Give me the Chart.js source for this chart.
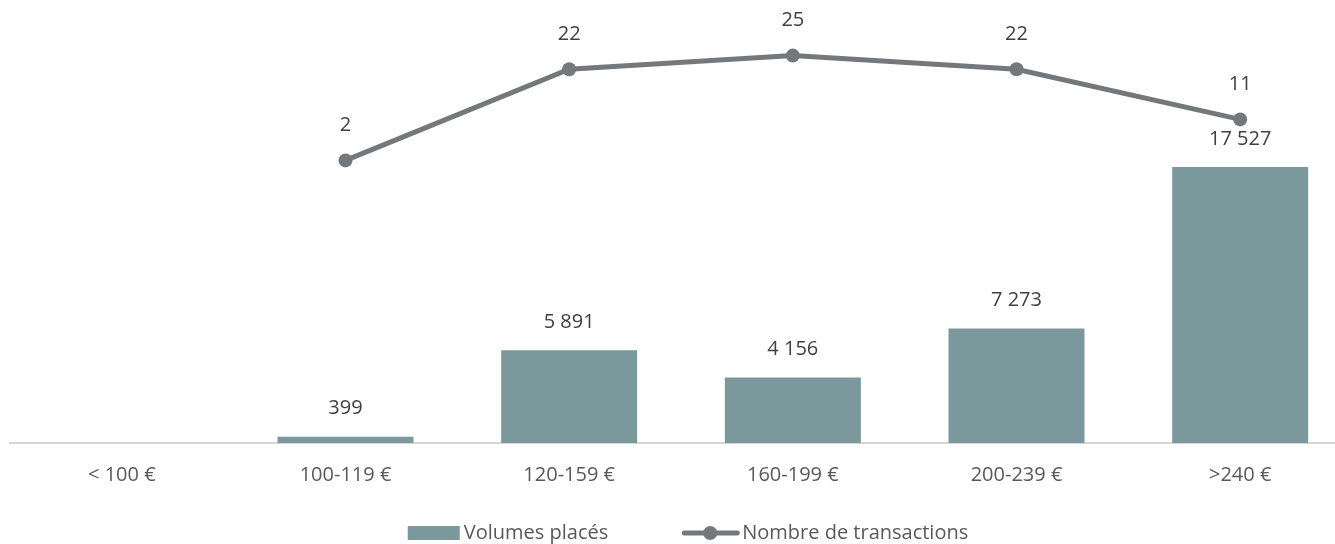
<!DOCTYPE html>
<html lang="fr">
<head>
    <meta charset="UTF-8">
    <title>Volumes placés et nombre de transactions</title>
    <script src="https://cdn.jsdelivr.net/npm/chart.js"></script>
    <style>
        body {
            margin: 0;
            background: #ffffff;
            overflow: hidden;
        }

        .chart-box {
            width: 1359px;
            height: 544px;
            position: relative;
        }
    </style>
</head>
<body>
    <div class="chart-box">
        <canvas id="combo"></canvas>
    </div>

    <script>
        // données
        const categories = ['< 100 €', '100-119 €', '120-159 €', '160-199 €', '200-239 €', '>240 €'];
        const volumes = [null, 399, 5891, 4156, 7273, 17527];
        const transactions = [null, 2, 22, 25, 22, 11];

        const FONT = '"Open Sans", "DejaVu Sans", sans-serif';
        const BAR_COLOR = '#7b999d';
        const LINE_COLOR = '#75787b';

        function fmt(v) {
            return String(v).replace(/\B(?=(\d{3})+(?!\d))/g, ' ');
        }

        // étiquettes de valeurs au-dessus des barres et des points
        const valueLabels = {
            id: 'valueLabels',
            afterDatasetsDraw(chart) {
                const ctx = chart.ctx;
                ctx.save();
                ctx.font = '20px ' + FONT;
                ctx.fillStyle = '#404040';
                ctx.textAlign = 'center';
                ctx.textBaseline = 'middle';
                chart.data.datasets.forEach((ds, i) => {
                    const meta = chart.getDatasetMeta(i);
                    const gap = ds.type === 'line' ? 35 : 28;
                    meta.data.forEach((el, j) => {
                        const v = ds.data[j];
                        if (v === null || v === undefined) return;
                        ctx.fillText(fmt(v), el.x, el.y - gap);
                    });
                });
                ctx.restore();
            }
        };

        // légende dessinée à la main (trait + point pour la courbe)
        const bottomLegend = {
            id: 'bottomLegend',
            afterDraw(chart) {
                const ctx = chart.ctx;
                ctx.save();
                ctx.font = '20px ' + FONT;
                ctx.textBaseline = 'middle';
                const y = 533;
                const t1 = 'Volumes placés';
                const t2 = 'Nombre de transactions';
                const w1 = 52 + 4 + ctx.measureText(t1).width;
                const w2 = 57 + 3 + ctx.measureText(t2).width;
                const total = w1 + 74 + w2;
                let x = 688 - total / 2;

                ctx.fillStyle = BAR_COLOR;
                ctx.fillRect(x, y - 7, 52, 14);
                ctx.fillStyle = '#595959';
                ctx.fillText(t1, x + 56, y);
                x += w1 + 74;

                ctx.strokeStyle = LINE_COLOR;
                ctx.lineWidth = 5;
                ctx.lineCap = 'round';
                ctx.beginPath();
                ctx.moveTo(x + 2, y);
                ctx.lineTo(x + 55, y);
                ctx.stroke();
                ctx.fillStyle = LINE_COLOR;
                ctx.beginPath();
                ctx.arc(x + 28, y, 7, 0, Math.PI * 2);
                ctx.fill();
                ctx.fillStyle = '#595959';
                ctx.fillText(t2, x + 60, y);
                ctx.restore();
            }
        };

        const ctxCombo = document.getElementById('combo').getContext('2d');
        new Chart(ctxCombo, {
            data: {
                labels: categories,
                datasets: [
                    {
                        type: 'line',
                        label: 'Nombre de transactions',
                        data: transactions,
                        yAxisID: 'y1',
                        borderColor: LINE_COLOR,
                        backgroundColor: LINE_COLOR,
                        borderWidth: 5,
                        pointRadius: 7,
                        pointBorderWidth: 0,
                        pointBackgroundColor: LINE_COLOR,
                        tension: 0,
                        spanGaps: false,
                        order: 0
                    },
                    {
                        type: 'bar',
                        label: 'Volumes placés',
                        data: volumes,
                        yAxisID: 'y',
                        backgroundColor: BAR_COLOR,
                        borderWidth: 0,
                        categoryPercentage: 1,
                        barPercentage: 0.608,
                        order: 1
                    }
                ]
            },
            options: {
                responsive: true,
                maintainAspectRatio: false,
                animation: false,
                layout: {
                    padding: { left: 10, right: 0, top: 10, bottom: 37 }
                },
                scales: {
                    x: {
                        grid: { display: false, drawTicks: false },
                        border: { display: true, color: '#d6d6d6', width: 2 },
                        ticks: {
                            color: '#595959',
                            padding: 20,
                            font: { family: FONT, size: 20 }
                        }
                    },
                    y: {
                        display: false,
                        min: 0,
                        max: 27500
                    },
                    y1: {
                        display: false,
                        position: 'right',
                        min: -60,
                        max: 35
                    }
                },
                plugins: {
                    legend: { display: false },
                    tooltip: { enabled: false }
                }
            },
            plugins: [valueLabels, bottomLegend]
        });
    </script>
</body>
</html>
